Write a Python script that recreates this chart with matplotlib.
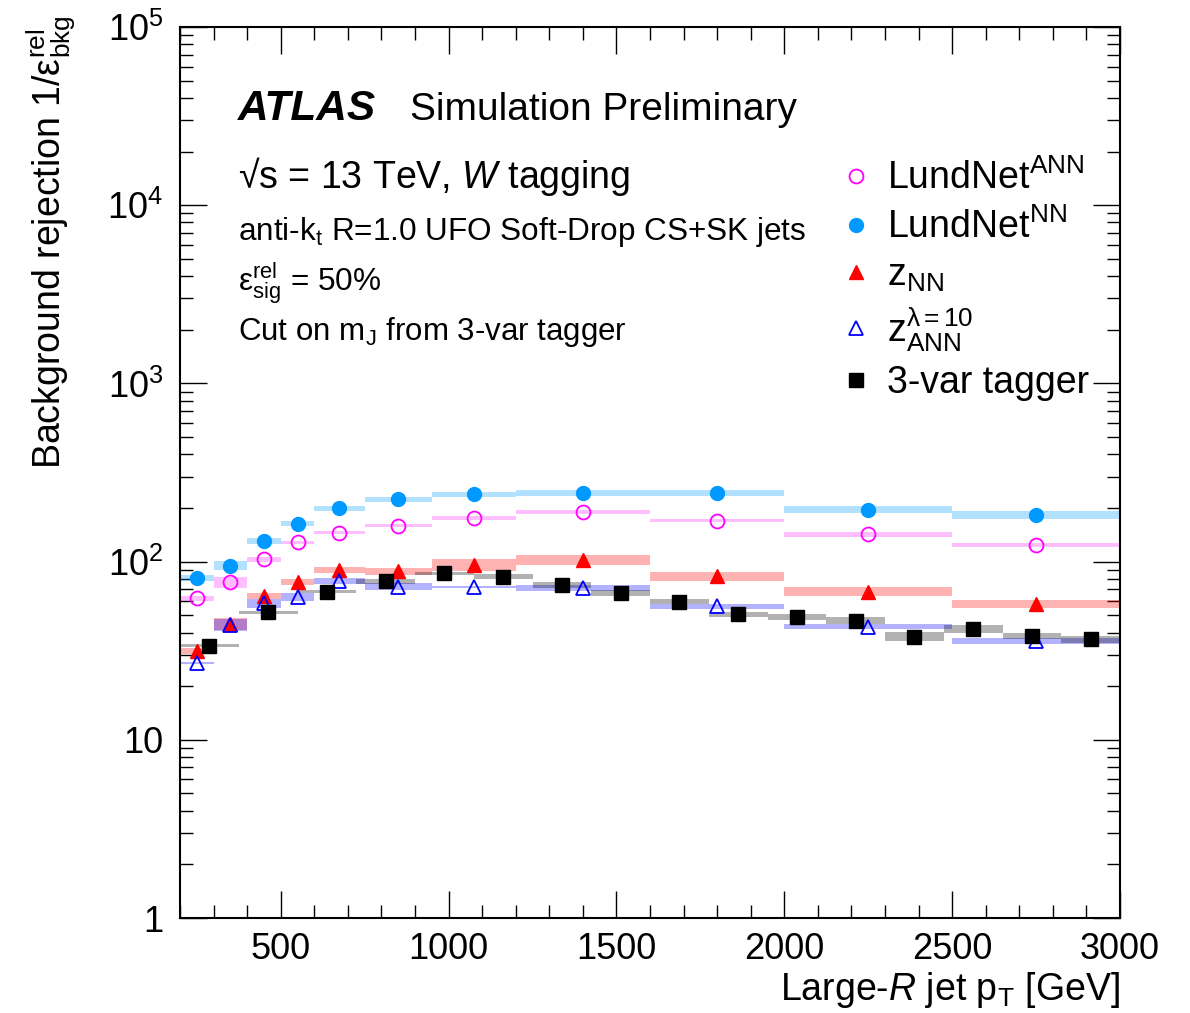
import numpy as np
import matplotlib
matplotlib.use('Agg')
import matplotlib.pyplot as plt
from matplotlib.ticker import MultipleLocator, LogLocator, FixedLocator, FixedFormatter, NullFormatter

plt.rcParams['font.family'] = ['Liberation Sans', 'DejaVu Sans']
plt.rcParams['mathtext.fontset'] = 'custom'
plt.rcParams['mathtext.rm'] = 'Liberation Sans'
plt.rcParams['mathtext.it'] = 'Liberation Sans:italic'
plt.rcParams['mathtext.bf'] = 'Liberation Sans:bold'
plt.rcParams['mathtext.sf'] = 'Liberation Sans'

# ---------------- data ----------------
lund_edges = [200, 300, 400, 500, 600, 750, 950, 1200, 1600, 2000, 2500, 3000]
var3_edges = [200, 375, 550, 725, 900, 1075, 1250, 1425, 1600, 1775, 1950,
              2125, 2300, 2475, 2650, 2825, 3000]

lundnet_ann = [62.3, 76.5, 103, 128, 145, 159, 176, 190, 170, 142, 124]
lundnet_ann_err = [0.033, 0.074, 0.029, 0.024, 0.02, 0.018, 0.022, 0.024, 0.024, 0.03, 0.03]
lundnet_nn = [80.6, 94.8, 131, 163, 199, 224, 239, 244, 242, 196, 183]
lundnet_nn_err = [0.04, 0.06, 0.04, 0.033, 0.033, 0.033, 0.033, 0.04, 0.04, 0.046, 0.053]
z_nn = [31.5, 44.5, 64.1, 76.5, 89.7, 88.5, 95.7, 102, 83, 67.8, 57.8]
z_nn_err = [0.046, 0.08, 0.046, 0.04, 0.033, 0.046, 0.074, 0.067, 0.06, 0.06, 0.053]
z_ann = [26.9, 44.1, 58.3, 63.5, 77.8, 72.3, 71.8, 70.8, 56.3, 43.1, 35.8]
z_ann_err = [0.013, 0.08, 0.06, 0.053, 0.04, 0.046, 0.013, 0.04, 0.033, 0.033, 0.04]
var3 = [33.7, 51.9, 67.8, 77.5, 86.0, 82.3, 73.9, 66.4, 59.6, 50.6, 49.1,
        46.6, 37.9, 41.7, 38.4, 36.6]
var3_err = [0.02, 0.016, 0.017, 0.033, 0.02, 0.033, 0.04, 0.04, 0.033, 0.033, 0.04,
            0.046, 0.06, 0.053, 0.04, 0.046]

x_ticks = [500, 1000, 1500, 2000, 2500, 3000]
y_ticks = [1, 10, 100, 1000, 10000, 100000]
y_ticklabels = ['1', '10', '$10^{2}$', '$10^{3}$', '$10^{4}$', '$10^{5}$']

# ---------------- figure ----------------
fig = plt.figure(figsize=(11.9, 10.13), dpi=100)
ax = fig.add_axes([180/1190, 95/1013, 940/1190, 891/1013])
ax.set_yscale('log')
ax.set_xlim(200, 3000)
ax.set_ylim(1, 1e5)


def draw(edges, vals, errs, color, alpha, marker, mfc, ms, mew, label):
    edges = np.asarray(edges, float)
    vals = np.asarray(vals, float)
    errs = np.asarray(errs, float)
    lo = vals / (1 + errs)
    hi = vals * (1 + errs)
    ax.bar(edges[:-1], hi - lo, width=np.diff(edges), bottom=lo, align='edge',
           color=color, alpha=alpha, linewidth=0, zorder=2)
    centers = 0.5 * (edges[:-1] + edges[1:])
    h, = ax.plot(centers, vals, ls='none', marker=marker, ms=ms, mfc=mfc,
                 mec=color, mew=mew, label=label, zorder=5)
    return h

h_ann = draw(lund_edges, lundnet_ann, lundnet_ann_err, '#FF00FF', 0.25, 'o', 'none', 10, 1.3,
             'LundNet$^{\\mathrm{ANN}}$')
h_nn = draw(lund_edges, lundnet_nn, lundnet_nn_err, '#0099FF', 0.3, 'o', '#0099FF', 10, 1.0,
            'LundNet$^{\\mathrm{NN}}$')
h_znn = draw(lund_edges, z_nn, z_nn_err, '#FF0000', 0.3, '^', '#FF0000', 10, 1.0,
             'z$_{\\mathrm{NN}}$')
h_zann = draw(lund_edges, z_ann, z_ann_err, '#0000FF', 0.3, '^', 'none', 10, 1.3,
              'z$^{\\mathrm{λ=10}}_{\\mathrm{ANN}}$')
h_3v = draw(var3_edges, var3, var3_err, '#000000', 0.3, 's', '#000000', 10.3, 1.0,
            '3-var tagger')

# ---------------- axes styling ----------------
ax.xaxis.set_major_locator(FixedLocator(x_ticks))
ax.xaxis.set_minor_locator(MultipleLocator(100))
ax.yaxis.set_major_locator(FixedLocator(y_ticks))
ax.yaxis.set_major_formatter(FixedFormatter(y_ticklabels))
ax.yaxis.set_minor_locator(LogLocator(base=10, subs=np.arange(2, 10)))
ax.yaxis.set_minor_formatter(NullFormatter())
ax.tick_params(which='both', direction='in', top=True, right=True, labelsize=26, width=1.0)
ax.tick_params(axis='x', which='both', pad=10)
ax.tick_params(axis='y', which='both', pad=12)
ax.tick_params(which='major', length=19.5)
ax.tick_params(which='minor', length=9.5)
for s in ax.spines.values():
    s.set_linewidth(1.5)

ax.set_xlabel('Large-$R$ jet p$_{\\mathrm{T}}$ [GeV]', fontsize=27, ha='right')
ax.xaxis.set_label_coords(1.0, -0.058)
ax.set_ylabel('Background rejection 1/ε$^{\\mathrm{rel}}_{\\mathrm{bkg}}$', fontsize=27, ha='right')
ax.yaxis.set_label_coords(-0.108, 1.013)

# ---------------- annotations ----------------
tr = ax.transAxes
ax.text(0.0617, 0.8956, 'ATLAS', transform=tr, fontsize=30.5, weight='bold', style='italic', va='baseline')
ax.text(0.2447, 0.8956, 'Simulation Preliminary', transform=tr, fontsize=28, va='baseline')
ax.text(0.0617, 0.8193, '√s = 13 TeV, $W$ tagging', transform=tr, fontsize=27, va='baseline')
ax.text(0.0617, 0.761, 'anti-k$_{\\mathrm{t}}$ R=1.0 UFO Soft-Drop CS+SK jets', transform=tr, fontsize=22.7, va='baseline')
ax.text(0.0617, 0.7048, 'ε$^{\\mathrm{rel}}_{\\mathrm{sig}}$ = 50%', transform=tr, fontsize=22.7, va='baseline')
ax.text(0.0617, 0.6487, 'Cut on m$_{\\mathrm{J}}$ from 3-var tagger', transform=tr, fontsize=22.5, va='baseline')

ax.legend([h_ann, h_nn, h_znn, h_zann, h_3v],
          [h.get_label() for h in [h_ann, h_nn, h_znn, h_zann, h_3v]],
          loc='upper left', bbox_to_anchor=(0.703, 0.851), frameon=False, fontsize=27,
          handlelength=0.8, handletextpad=0.43, borderpad=0, borderaxespad=0,
          labelspacing=0.3, numpoints=1)

fig.savefig('out.png', dpi=100)
